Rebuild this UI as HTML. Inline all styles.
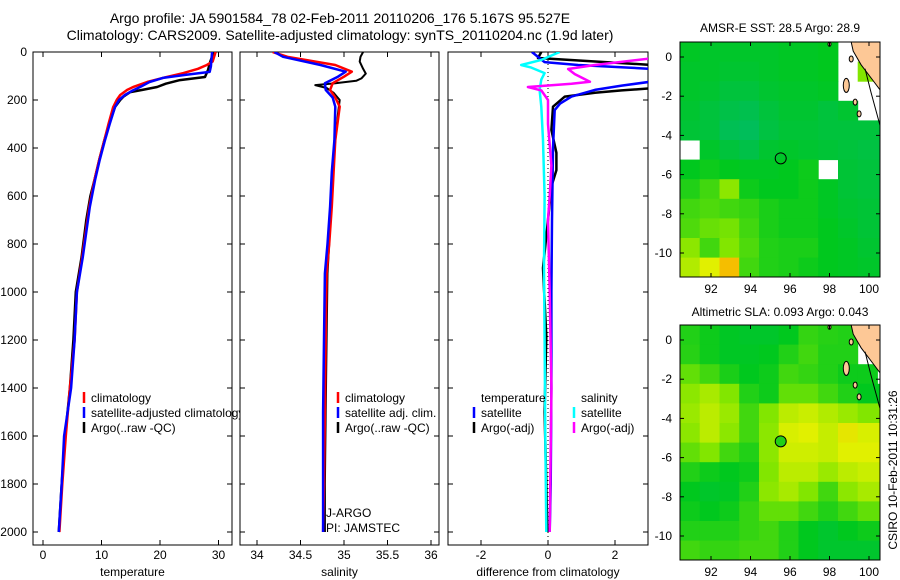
<!DOCTYPE html>
<html><head><meta charset="utf-8"><style>
html,body{margin:0;padding:0;background:#fff;}
svg{display:block;font-family:"Liberation Sans",sans-serif;}
</style></head><body>
<svg id="fig" width="900" height="580" viewBox="0 0 900 580">
<defs>
<clipPath id="c1"><rect x="33" y="52" width="199" height="493"/></clipPath>
<clipPath id="c2"><rect x="240" y="52" width="199" height="493"/></clipPath>
<clipPath id="c3"><rect x="448" y="52" width="200" height="493"/></clipPath>
<clipPath id="cleg"><rect x="33" y="52" width="207" height="493"/></clipPath>
<clipPath id="cm1"><rect x="680" y="42" width="200" height="235"/></clipPath>
<clipPath id="cm2"><rect x="680" y="325" width="200" height="235"/></clipPath>
</defs>
<text x="340" y="23" font-size="14" text-anchor="middle">Argo profile: JA 5901584_78 02-Feb-2011 20110206_176 5.167S 95.527E</text>
<text x="340" y="40" font-size="14" text-anchor="middle">Climatology: CARS2009. Satellite-adjusted climatology: synTS_20110204.nc (1.9d later)</text>
<text x="780" y="32" font-size="12" text-anchor="middle">AMSR-E SST: 28.5 Argo: 28.9</text>
<text x="780" y="316" font-size="12" text-anchor="middle">Altimetric SLA: 0.093 Argo: 0.043</text>
<text transform="translate(897,470) rotate(-90)" font-size="12" text-anchor="middle">CSIRO 10-Feb-2011 10:31:26</text>
<g id="layer"></g>
</svg>
<script>
// ---- data ----
const depthTicks = [0,200,400,600,800,1000,1200,1400,1600,1800,2000];
const tempTicks = [0,10,20,30];
const salTicks = [34,34.5,35,35.5,36];
const diffTicks = [-2,0,2];
const tempClimDepth = [0,40,54,70,88,105,125,145,158,179,200,229,300,367,450,533,646,750,854,1000,1200,1400,1600,1800,2000];
const tempClim = [29.5,29.0,28.0,26.5,24.0,21.0,17.8,15.5,14.4,13.2,12.6,12.0,11.2,10.5,9.6,8.8,7.9,7.3,6.7,5.8,5.4,4.6,3.9,3.3,2.8];
const tempSatDepth = [0,60,83,95,108,125,146,162,179,200,229,300,367,450,533,646,750,854,1000,1200,1400,1600,1800,2000];
const tempSat = [28.9,28.7,28.5,24.5,20.5,18.2,16.6,15.2,14.0,13.0,12.3,11.4,10.6,9.7,8.9,8.0,7.4,6.8,5.8,5.4,4.8,3.6,3.2,2.7];
const tempArgoDepth = [0,40,75,104,117,132,146,158,167,185,200,229,300,367,450,533,600,700,854,1000,1200,1400,1600,1800,2000];
const tempArgo = [29.2,28.6,28.2,27.7,23.4,21.0,19.5,17.0,14.9,13.8,13.2,12.3,11.3,10.5,9.6,8.8,8.1,7.4,6.6,5.6,5.2,4.6,3.8,3.2,2.7];
const salClimDepth = [0,20,54,82,103,130,158,190,228,367,500,644,800,922,1200,1500,1800,2000];
const salClim = [34.18,34.35,34.9,35.09,35.0,34.87,34.84,34.9,34.95,34.9,34.88,34.86,34.83,34.8,34.79,34.78,34.77,34.76];
const salSatDepth = [0,20,54,82,103,130,158,190,228,367,500,644,800,922,1200,1500,1800,2000];
const salSat = [34.2,34.3,34.73,35.02,34.93,34.78,34.79,34.87,34.9,34.89,34.86,34.84,34.81,34.78,34.77,34.76,34.76,34.76];
const salArgoDepth = [0,20,40,70,90,110,120,130,138,150,170,200,260,367,500,644,800,922,1200,1500,1800,2000];
const salArgo = [35.22,35.19,35.18,35.22,35.25,35.2,35.14,34.9,34.67,34.8,34.88,34.95,34.93,34.9,34.87,34.85,34.83,34.81,34.8,34.79,34.78,34.78];
const dTSatDepth = [0,42,54,65,75,115,125,140,158,186,215,242,400,700,1000,1400,1800,2000];
const dTSat = [-0.48,-0.1,0.9,2.4,3.6,3.6,3.0,2.2,1.4,0.7,0.36,0.2,0.15,0.12,0.1,0.1,0.08,0.05];
const dTArgoDepth = [0,25,60,145,152,160,170,186,228,325,420,492,560,700,900,1183,1500,1800,2000];
const dTArgo = [-0.2,-0.3,3.8,3.8,3.0,2.2,1.4,0.5,0.15,0.1,0.25,0.25,0.1,0.0,-0.15,-0.05,-0.1,-0.05,-0.02];
const dSSatDepth = [0,33,54,65,88,115,158,228,367,600,900,1200,1600,2000];
const dSSat = [0.35,-0.2,-0.8,-0.5,-0.1,-0.2,-0.25,-0.2,-0.15,-0.1,-0.12,-0.1,-0.08,-0.05];
const dSArgoDepth = [0,20,28,54,71,92,124,132,146,160,200,300,472,600,700,1000,1400,2000];
const dSArgo = [4.0,3.5,3.0,1.4,0.6,0.8,1.25,0.7,-0.6,-0.2,0.0,0.0,0.1,0.05,0.0,0.05,0.1,0.05];
const lonTicks = [92,94,96,98,100];
const latTicks = [0,-2,-4,-6,-8,-10];
const sstGrid = [
[.38,.36,.36,.36,.36,.38,.38,.40,null,null,null],
[.36,.36,.34,.34,.36,.38,.38,.40,null,.60,null],
[.36,.34,.30,.30,.34,.36,.36,.38,null,null,null],
[.34,.30,.26,.24,.30,.34,.34,.30,.34,null,null],
[.32,.30,.22,.20,.28,.32,.32,.30,.30,.30,.30],
[null,.36,.30,.26,.34,.36,.34,.32,.30,.28,.28],
[.40,.42,.40,.38,.38,.40,.42,null,.32,.30,.30],
[.45,.50,.62,.42,.40,.40,.42,.38,.32,.30,.30],
[.50,.52,.50,.48,.44,.42,.42,.38,.34,.32,.32],
[.52,.56,.58,.50,.44,.42,.42,.40,.36,.32,.32],
[.62,.50,.60,.52,.45,.44,.44,.40,.38,.34,.34],
[.70,.80,.90,.50,.45,.44,.42,.40,.38,.36,.36]];
const slaGrid = [
[.45,.42,.38,.36,.36,.40,.48,.46,.45,null,null],
[.46,.42,.38,.38,.40,.45,.50,.45,.45,null,null],
[.55,.50,.44,.40,.42,.50,.48,.45,.42,.42,null],
[.62,.68,.60,.45,.42,.55,.55,.50,.45,.40,.40],
[.65,.72,.65,.50,.60,.72,.75,.70,.65,.60,.60],
[.62,.72,.62,.50,.62,.78,.80,.74,.82,.78,.78],
[.55,.60,.50,.45,.62,.76,.76,.74,.80,.80,.80],
[.45,.42,.40,.42,.60,.72,.72,.65,.72,.75,.75],
[.40,.36,.38,.45,.62,.68,.60,.50,.62,.68,.68],
[.42,.40,.42,.48,.55,.55,.50,.45,.50,.55,.55],
[.45,.45,.45,.48,.50,.45,.40,.35,.40,.42,.42],
[.50,.48,.48,.50,.50,.45,.40,.35,.35,.35,.35]];
const argoLon = 95.53, argoLat = -5.17;
// ---- helpers ----
const NS="http://www.w3.org/2000/svg";
const layer=document.getElementById('layer');
function mk(tag,attrs,parent){const e=document.createElementNS(NS,tag);for(const k in attrs)e.setAttribute(k,attrs[k]);(parent||layer).appendChild(e);return e;}
const yD=d=>52+d*0.24;
const xT=v=>43+v*5.85, xS=v=>257+(v-34)*87, xDf=v=>548+v*33.5;
const panels=[{x0:33,x1:232,sx:xT,ticks:tempTicks,clip:'c1',lab:'temperature',name:'temperature'},
{x0:240,x1:439,sx:xS,ticks:salTicks,clip:'c2',lab:'salinity',name:'salinity'},
{x0:448,x1:648,sx:xDf,ticks:diffTicks,clip:'c3',lab:'difference from climatology',name:'difference'}];
panels.forEach((p,i)=>{
  const g=mk('g',{});
  
  
  const r=mk('rect',{x:p.x0,y:52,width:p.x1-p.x0,height:493,fill:'none',stroke:'#000','stroke-width':1},g);
  
  
  depthTicks.forEach(d=>{const y=yD(d);
    mk('line',{x1:p.x0,x2:p.x0+5,y1:y,y2:y,stroke:'#000'},g);
    mk('line',{x1:p.x1-5,x2:p.x1,y1:y,y2:y,stroke:'#000'},g);
  });
  p.ticks.forEach(v=>{const x=p.sx(v);
    mk('line',{x1:x,x2:x,y1:52,y2:57,stroke:'#000'},g);
    mk('line',{x1:x,x2:x,y1:540,y2:545,stroke:'#000'},g);
    const t=mk('text',{x:x,y:559,'font-size':12,'text-anchor':'middle'},g);t.textContent=String(v);
    
    
  });
  const t=mk('text',{x:(p.x0+p.x1)/2,y:576,'font-size':12,'text-anchor':'middle'},g);t.textContent=p.lab;
  
  
});
depthTicks.forEach(d=>{const t=mk('text',{x:27,y:yD(d)+4,'font-size':12,'text-anchor':'end'});t.textContent=String(d);
  
  });
const zl=mk('line',{x1:xDf(0),x2:xDf(0),y1:52,y2:545,stroke:'#000','stroke-width':1,'stroke-dasharray':'1,3'});


function series(depths,vals,sx,color,clip,name,w){
  const pts=depths.map((d,i)=>sx(vals[i]).toFixed(1)+','+yD(d).toFixed(1)).join(' ');
  const pl=mk('polyline',{points:pts,fill:'none',stroke:color,'stroke-width':w||2.5,'clip-path':'url(#'+clip+')','stroke-linejoin':'round'});
  
  
}
series(tempArgoDepth,tempArgo,xT,'#000','c1','temp-argo-line');
series(tempClimDepth,tempClim,xT,'#f00','c1','temp-climatology-line');
series(tempSatDepth,tempSat,xT,'#00f','c1','temp-satellite-line');
series(salArgoDepth,salArgo,xS,'#000','c2','sal-argo-line',2);
series(salClimDepth,salClim,xS,'#f00','c2','sal-climatology-line');
series(salSatDepth,salSat,xS,'#00f','c2','sal-satellite-line');
series(dTArgoDepth,dTArgo,xDf,'#000','c3','diff-temp-argo-line');
series(dTSatDepth,dTSat,xDf,'#00f','c3','diff-temp-satellite-line');
series(dSSatDepth,dSSat,xDf,'#0ff','c3','diff-sal-satellite-line');
series(dSArgoDepth,dSArgo,xDf,'#f0f','c3','diff-sal-argo-line');
function legEntry(x,y,color,label,name,clip){
  const g=mk('g',clip?{'clip-path':'url(#'+clip+')'}:{});
  
  
  if(color) mk('line',{x1:x,x2:x,y1:y-10,y2:y+1,stroke:color,'stroke-width':2.5},g);
  const t=mk('text',{x:x+7,y:y,'font-size':12},g);t.textContent=label;
}
legEntry(84,402,'#f00','climatology','legend-entry-climatology','cleg');
legEntry(84,417,'#00f','satellite-adjusted climatology','legend-entry-satellite','cleg');
legEntry(84,432,'#000','Argo(..raw -QC)','legend-entry-argo','cleg');
legEntry(338,402,'#f00','climatology','legend-entry-sal-climatology');
legEntry(338,417,'#00f','satellite adj. clim.','legend-entry-sal-satellite');
legEntry(338,432,'#000','Argo(..raw -QC)','legend-entry-sal-argo');
legEntry(474,402,null,'temperature','legend-heading-temperature');
legEntry(574,402,null,'salinity','legend-heading-salinity');
legEntry(474,417,'#00f','satellite','legend-entry-diff-temp-satellite');
legEntry(474,432,'#000','Argo(-adj)','legend-entry-diff-temp-argo');
legEntry(574,417,'#0ff','satellite','legend-entry-diff-sal-satellite');
legEntry(574,432,'#f0f','Argo(-adj)','legend-entry-diff-sal-argo');
[['J-ARGO',517],['PI: JAMSTEC',532]].forEach(([s,y])=>{const t=mk('text',{x:326,y:y,'font-size':12});t.textContent=s;
  
  });
const stops=[[0,[0,180,150]],[0.4,[0,200,30]],[0.6,[130,230,0]],[0.8,[225,240,0]],[0.9,[245,190,0]],[1,[240,130,0]]];
function cmap(v){for(let i=1;i<stops.length;i++){if(v<=stops[i][0]){const a=stops[i-1],b=stops[i],f=(v-a[0])/(b[0]-a[0]);
  return 'rgb('+a[1].map((c,k)=>Math.round(c+(b[1][k]-c)*f)).join(',')+')';}}return 'rgb(240,130,0)';}
function drawMap(top,grid,clip,name,filled){
  const xL=lon=>711+(lon-92)*19.75, yL=lat=>top+15+(-lat)*19.6;
  const latTop=15/19.6;
  const g=mk('g',{'clip-path':'url(#'+clip+')'});
  
  
  const lon0=90.43;
  grid.forEach((row,i)=>row.forEach((v,j)=>{ if(v===null) return;
    const la=latTop-i, lo=lon0+j;
    const c=mk('rect',{x:xL(lo).toFixed(1),y:yL(la).toFixed(1),width:20.2,height:20.1,fill:cmap(v)},g);
    
    
  }));
  const land=[[99.0,1.2],[100.8,1.2],[100.8,-2.0],[100.2,-1.2],[99.6,-0.4],[99.2,0.3]];
  const lp=mk('polygon',{points:land.map(p=>xL(p[0]).toFixed(1)+','+yL(p[1]).toFixed(1)).join(' '),fill:'#fdc896',stroke:'#000','stroke-width':1},g);
  
  
  [[98.85,-1.45,3,7],[98.0,0.65,1.5,2],[99.3,-2.3,2,3],[99.5,-2.9,2,3],[99.1,-0.1,2,3]].forEach(s=>{
    const e=mk('ellipse',{cx:xL(s[0]),cy:yL(s[1]),rx:s[2],ry:s[3],fill:'#fdc896',stroke:'#000'},g);
    
    });
  mk('polyline',{points:[[99.8,-0.6],[100.1,-1.8],[100.56,-3.5]].map(p=>xL(p[0])+','+yL(p[1])).join(' '),fill:'none',stroke:'#000'},g);
  const m=mk('circle',{cx:xL(argoLon),cy:yL(argoLat),r:5.5,fill:filled?cmap(0.45):'none',stroke:'#000','stroke-width':1},g);
  
  
  const b=mk('rect',{x:680,y:top,width:200,height:235,fill:'none',stroke:'#000'});
  
  
  lonTicks.forEach(lo=>{const x=xL(lo);
    mk('line',{x1:x,x2:x,y1:top,y2:top+4,stroke:'#000'});mk('line',{x1:x,x2:x,y1:top+231,y2:top+235,stroke:'#000'});
    const t=mk('text',{x:x,y:top+251,'font-size':12,'text-anchor':'middle'});t.textContent=String(lo);
    
    });
  latTicks.forEach(la=>{const y=yL(la);
    mk('line',{x1:680,x2:684,y1:y,y2:y,stroke:'#000'});mk('line',{x1:876,x2:880,y1:y,y2:y,stroke:'#000'});
    const t=mk('text',{x:672,y:y+4,'font-size':12,'text-anchor':'end'});t.textContent=String(la);
    
    });
}
drawMap(42,sstGrid,'cm1','sst',false);
drawMap(325,slaGrid,'cm2','sla',true);
</script>
</body></html>
